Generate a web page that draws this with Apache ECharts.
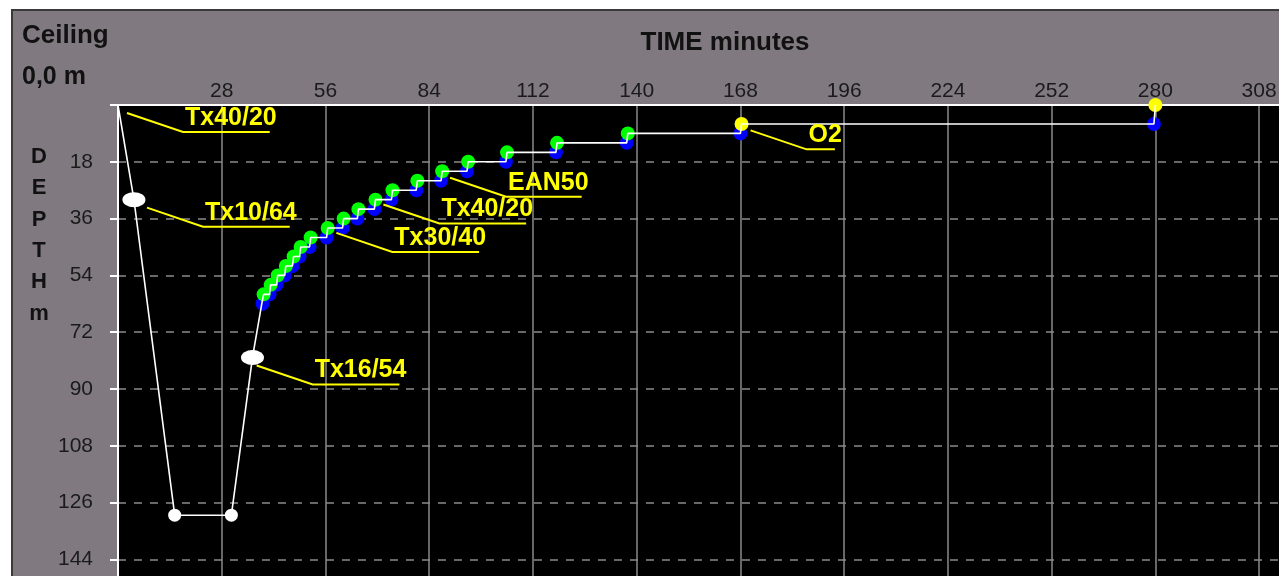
<!DOCTYPE html>
<html><head><meta charset="utf-8">
<script src="https://cdn.jsdelivr.net/npm/echarts@6/dist/echarts.min.js"></script>
<style>
html,body{margin:0;padding:0;background:#fff;width:1279px;height:576px;overflow:hidden;}
#frame{position:absolute;left:11px;top:9px;width:1300px;height:600px;background:#807a80;border-left:2px solid #3a3a3a;border-top:2px solid #3a3a3a;}
#chart{position:absolute;left:0;top:0;width:1309px;height:596px;}
</style></head><body>
<div id="frame"></div><div id="chart"></div>
<script>
// ---- data ----
const xTickStep = 28;      // minutes
const yTickStep = 18;      // metres
const descentTime  = [0, 4.3, 15.3, 30.6, 36.3];
const descentDepth = [0, 30, 130, 130, 80];
const switchMarkTime  = [4.3, 36.3];
const switchMarkDepth = [30, 80];
const bottomMarkTime  = [15.3, 30.6];
const bottomMarkDepth = [130, 130];
const stopDepth  = [63, 60, 57, 54, 51, 48, 45, 42, 39, 36, 33, 30, 27, 24, 21, 18, 15, 12, 9, 6];
const stopArrive = [38.8, 39.3, 41.2, 43.1, 45.3, 47.4, 49.3, 52.0, 56.6, 60.9, 64.9, 69.5, 74.1, 80.8, 87.5, 94.5, 105.0, 118.5, 137.6, 168.3];
const stopLeave  = [39.0, 40.9, 42.8, 45.0, 47.1, 49.0, 51.7, 56.3, 60.6, 64.6, 69.2, 73.8, 80.5, 87.2, 94.2, 104.7, 118.2, 137.3, 168.0, 279.6];
const surfaceTime = 280;
const gasLabel = ['Tx40/20', 'Tx10/64', 'Tx16/54', 'Tx30/40', 'Tx40/20', 'EAN50', 'O2'];
const gasLabelTime  = [0, 5.4, 35, 56.5, 69.2, 87.2, 168.3];
const gasLabelDepth = [0, 30, 80, 38, 29, 20.5, 5.5];

// ---- build series data ----
const profile = descentTime.map((t, i) => [t, descentDepth[i]]);
stopDepth.forEach((d, i) => { profile.push([stopArrive[i], d]); profile.push([stopLeave[i], d]); });
profile.push([surfaceTime, 0]);
const blueDots = stopDepth.map((d, i) => [stopLeave[i], d]);
const greenDots = [];
stopDepth.forEach((d, i) => { if (i > 0 && d > 6) greenDots.push([stopArrive[i], d]); });
const yellowDots = [[stopArrive[stopDepth.length - 1], stopDepth[stopDepth.length - 1]], [surfaceTime, 0]];
const labelData = gasLabel.map((s, i) => [gasLabelTime[i], gasLabelDepth[i], i]);

const FONT = '"Liberation Sans", Arial, sans-serif';
const LBLFONT = 'bold 25px ' + FONT;
const mctx = document.createElement('canvas').getContext('2d');
function textW(s) { mctx.font = LBLFONT; return mctx.measureText(s).width; }

const chart = echarts.init(document.getElementById('chart'), null, {renderer: 'canvas'});
chart.setOption({
  animation: false,
  backgroundColor: 'transparent',
  textStyle: {fontFamily: FONT},
  grid: {left: 118, top: 105, right: 0, bottom: 0, show: true, backgroundColor: '#000000', borderWidth: 0, containLabel: false},
  graphic: [
    {type: 'text', left: 22, top: 23, style: {text: 'Ceiling', font: 'bold 26px ' + FONT, fill: '#111'}},
    {type: 'text', left: 22, top: 65, style: {text: '0,0 m', font: 'bold 25px ' + FONT, fill: '#111'}},
    {type: 'text', x: 725, y: 43, style: {text: 'TIME minutes', font: 'bold 26px ' + FONT, fill: '#111', align: 'center', verticalAlign: 'middle'}},
    {type: 'text', x: 39, y: 141, style: {text: 'D\nE\nP\nT\nH\nm', font: 'bold 22px ' + FONT, lineHeight: 31.4, fill: '#111', align: 'center', verticalAlign: 'top'}}
  ],
  xAxis: {
    type: 'value', position: 'top', min: 0, max: 320.65, interval: xTickStep,
    axisLine: {show: true, onZero: false, lineStyle: {color: '#ffffff', width: 2}},
    axisTick: {show: false},
    axisLabel: {margin: 3, color: '#1a1a1a', fontSize: 21, fontFamily: FONT,
      formatter: v => (v === 0 || v % xTickStep !== 0) ? '' : String(v)},
    splitLine: {show: true, lineStyle: {color: '#8a8a8a', width: 1.5, type: 'solid'}}
  },
  yAxis: {
    type: 'value', inverse: true, min: 0, max: 155.6, interval: yTickStep,
    axisLine: {show: true, onZero: false, lineStyle: {color: '#ffffff', width: 2}},
    axisTick: {show: true, length: 8, lineStyle: {color: '#ffffff', width: 2}},
    axisLabel: {margin: 25, color: '#1a1a1a', fontSize: 21, fontFamily: FONT,
      formatter: v => (v === 0 || v % yTickStep !== 0) ? '' : String(v)},
    splitLine: {show: true, lineStyle: {color: '#8a8a8a', width: 1.5, type: [8, 8]}}
  },
  series: [
    {type: 'scatter', data: blueDots, symbol: 'circle', symbolSize: 14, itemStyle: {color: '#0000ff', opacity: 1}, z: 2, clip: false, silent: true},
    {type: 'scatter', data: greenDots, symbol: 'circle', symbolSize: 14, itemStyle: {color: '#00ff00', opacity: 1}, z: 3, clip: false, silent: true},
    {type: 'scatter', data: yellowDots, symbol: 'circle', symbolSize: 14, itemStyle: {color: '#ffff00', opacity: 1}, z: 3, clip: false, silent: true},
    {type: 'line', data: profile, showSymbol: false, lineStyle: {color: '#ffffff', width: 1.6}, z: 4, clip: false, silent: true},
    {type: 'scatter', data: bottomMarkTime.map((t, i) => [t, bottomMarkDepth[i]]), symbol: 'circle', symbolSize: 13, itemStyle: {color: '#ffffff', opacity: 1}, z: 5, silent: true},
    {type: 'scatter', data: switchMarkTime.map((t, i) => [t, switchMarkDepth[i]]), symbol: 'circle', symbolSize: [23, 15], itemStyle: {color: '#ffffff', opacity: 1}, z: 5, silent: true},
    {type: 'custom', data: labelData, z: 6, clip: false, silent: true,
      encode: {x: 0, y: 1},
      renderItem: function (params, api) {
        const p = api.coord([api.value(0), api.value(1)]);
        const s = gasLabel[api.value(2)];
        const w = textW(s);
        const kx = p[0] + 65, ky = p[1] + 27;
        return {type: 'group', children: [
          {type: 'polyline', shape: {points: [[p[0] + 9, p[1] + 8], [kx, ky], [kx + w - 5, ky]]},
            style: {stroke: '#ffff00', lineWidth: 2, fill: null}},
          {type: 'text', x: kx + 2, y: ky - 14,
            style: {text: s, font: LBLFONT, fill: '#ffff00', align: 'left', verticalAlign: 'middle'}}
        ]};
      }}
  ]
});
</script>
</body></html>
